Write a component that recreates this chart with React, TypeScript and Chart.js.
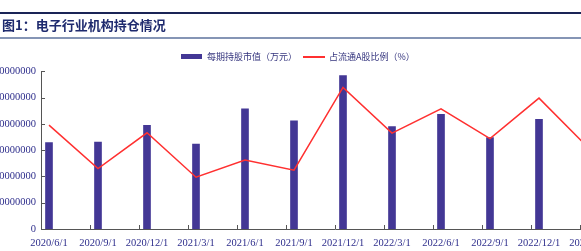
import React, { useEffect, useRef } from "react";
import { Chart, registerables } from "chart.js";

Chart.register(...registerables);

const categories = [
  "2020/6/1", "2020/9/1", "2020/12/1", "2021/3/1", "2021/6/1", "2021/9/1",
  "2021/12/1", "2022/3/1", "2022/6/1", "2022/9/1", "2022/12/1", "2023/3/1",
];
const holdingValues = [
  65800000, 66200000, 78800000, 64600000, 91500000, 82400000,
  116800000, 78000000, 87200000, 69600000, 83400000, 80000000,
];
const ratioValues = [3.95, 2.3, 3.66, 1.97, 2.62, 2.24, 5.39, 3.65, 4.57, 3.44, 4.98, 3.1];
const leftTicks = [0, 20000000, 40000000, 60000000, 80000000, 100000000, 120000000];

const BAND_START = -8 / 49;
const NAVY = "#2e2e8c";

const tickPlugin = {
  id: "innerTicks",
  afterDraw(chart: any) {
    const { ctx, chartArea, scales } = chart;
    ctx.save();
    ctx.strokeStyle = "#555555";
    ctx.lineWidth = 1;
    const ys = scales.y;
    ys.ticks.forEach((t: any) => {
      const y = Math.round(ys.getPixelForValue(t.value)) + 0.5;
      ctx.beginPath();
      ctx.moveTo(chartArea.left, y);
      ctx.lineTo(chartArea.left + 4, y);
      ctx.stroke();
    });
    const xs = scales.x;
    for (let k = 1; k <= categories.length; k++) {
      const x = Math.round(xs.getPixelForValue(BAND_START + k)) + 0.5;
      ctx.beginPath();
      ctx.moveTo(x, chartArea.bottom);
      ctx.lineTo(x, chartArea.bottom - 4);
      ctx.stroke();
    }
    ctx.restore();
  },
};

export default function App() {
  const ref = useRef<HTMLCanvasElement>(null);
  useEffect(() => {
    document.body.style.margin = "0";
    const chart = new Chart(ref.current!, {
      type: "bar",
      data: {
        datasets: [
          {
            type: "line",
            label: "占流通A股比例（%）",
            data: ratioValues.map((v, i) => ({ x: i, y: v })),
            borderColor: "#ff3030",
            borderWidth: 1.5,
            pointRadius: 0,
            tension: 0,
            yAxisID: "y1",
            order: 0,
          } as any,
          {
            type: "bar",
            label: "每期持股市值（万元）",
            data: holdingValues.map((v, i) => ({ x: i, y: v })),
            backgroundColor: "#433795",
            barThickness: 7,
            yAxisID: "y",
            order: 1,
          },
        ],
      },
      options: {
        animation: false,
        responsive: false,
        devicePixelRatio: 1,
        layout: { padding: { top: 10.7, left: 0, right: 0, bottom: 0 } },
        plugins: { legend: { display: false }, tooltip: { enabled: false } },
        scales: {
          x: {
            type: "linear",
            min: BAND_START,
            max: BAND_START + categories.length,
            offset: false,
            grid: { display: false, drawTicks: false },
            border: { display: true, color: "#555555", width: 1 },
            afterBuildTicks: (scale: any) => {
              scale.ticks = categories.map((_, i) => ({ value: i }));
            },
            afterFit: (scale: any) => {
              scale.height = 22;
            },
            ticks: {
              autoSkip: false,
              maxRotation: 0,
              padding: 8,
              color: NAVY,
              font: { family: "'Liberation Serif'", size: 10.5 },
              callback: (v: any) => categories[Math.round(Number(v))] ?? "",
            },
          } as any,
          y: {
            position: "left",
            min: 0,
            max: 120000000,
            grid: { display: false, drawTicks: false },
            border: { display: true, color: "#555555", width: 1 },
            afterBuildTicks: (scale: any) => {
              scale.ticks = leftTicks.map((v) => ({ value: v }));
            },
            afterFit: (scale: any) => {
              scale.width = 71;
            },
            ticks: {
              padding: 5,
              color: NAVY,
              font: { family: "'Liberation Serif'", size: 10.5 },
              callback: (v: any) => String(v),
            },
          } as any,
          y1: {
            position: "right",
            display: false,
            min: 0,
            max: 6,
          },
        },
      },
      plugins: [tickPlugin],
    });
    return () => chart.destroy();
  }, []);

  const legendText: React.CSSProperties = {
    position: "fixed",
    top: 50,
    fontFamily: "'Noto Sans CJK SC'",
    fontSize: 9,
    lineHeight: "14px",
    color: "#34347e",
    whiteSpace: "nowrap",
  };

  return (
    <div style={{ position: "relative", width: 581, height: 251, background: "#ffffff" }}>
      <div style={{ position: "fixed", top: 12, left: 0, width: 581, height: 2, background: "#1a2456" }} />
      <div
        style={{
          position: "fixed",
          top: 17,
          left: 2,
          fontFamily: "'Noto Sans CJK SC'",
          fontWeight: 700,
          fontSize: 13,
          lineHeight: "16px",
          color: "#1e2a6e",
          whiteSpace: "nowrap",
        }}
      >
        图1：电子行业机构持仓情况
      </div>
      <div style={{ position: "fixed", top: 37, left: 0, width: 581, height: 2, background: "#8595b5" }} />
      <div style={{ position: "fixed", top: 54, left: 181, width: 21, height: 5, background: "#433795" }} />
      <div style={{ ...legendText, left: 207 }}>每期持股市值（万元）</div>
      <div style={{ position: "fixed", top: 56, left: 303, width: 22, height: 2, background: "#ff3030" }} />
      <div style={{ ...legendText, left: 329 }}>占流通A股比例（%）</div>
      <canvas
        ref={ref}
        width={659}
        height={191}
        style={{ position: "fixed", left: -30, top: 60, width: 659, height: 191 }}
      />
    </div>
  );
}
